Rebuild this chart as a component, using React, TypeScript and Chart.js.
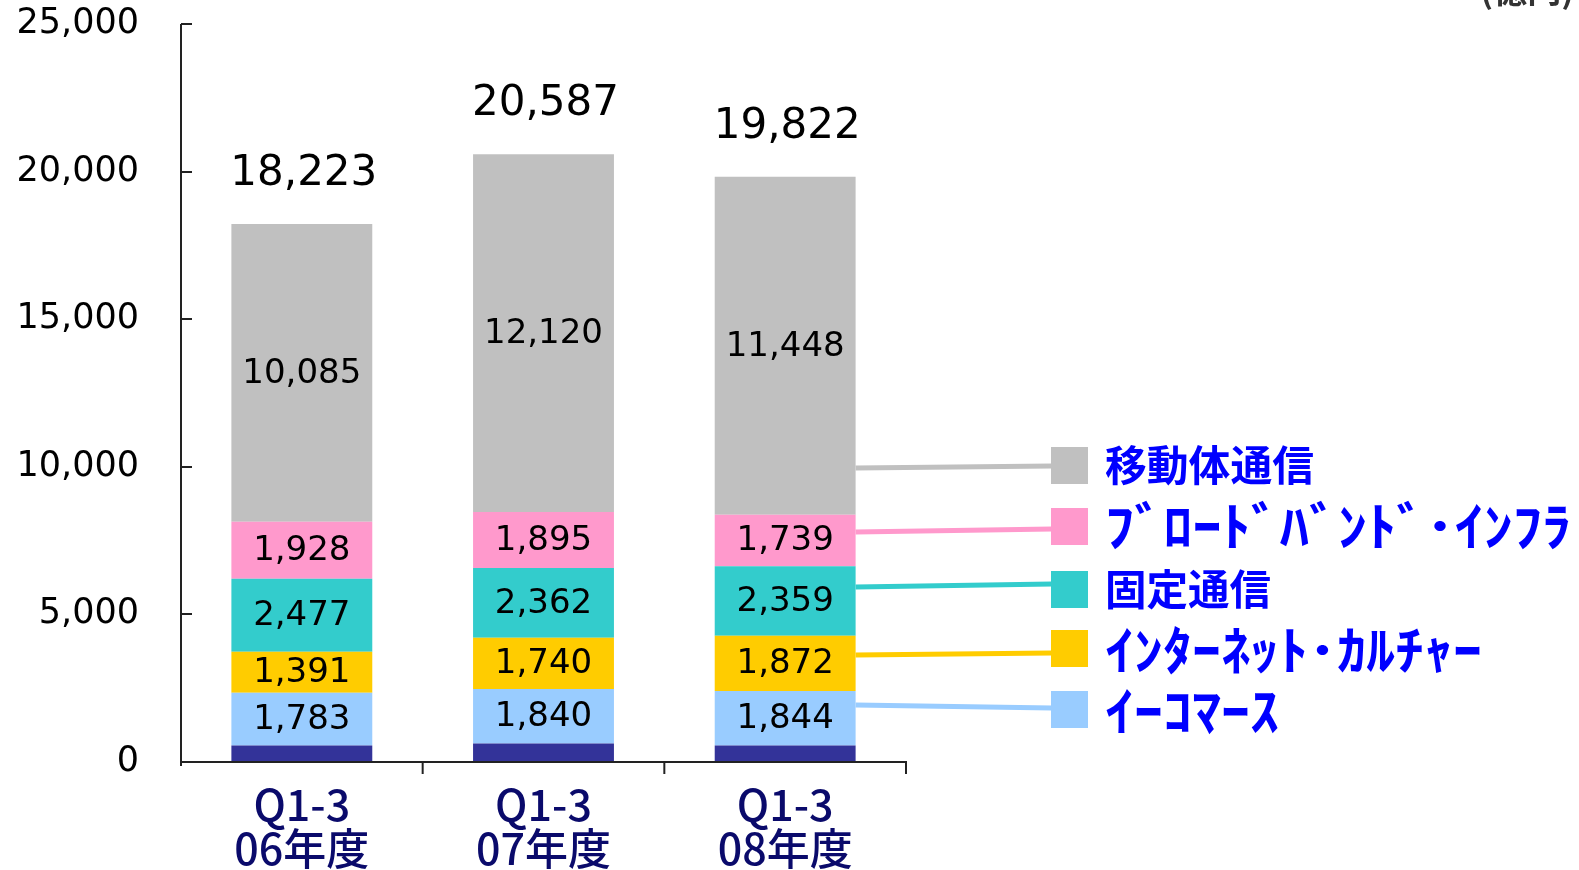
import React, { useEffect, useRef } from "react";
import { Chart, registerables } from "chart.js";

Chart.register(...registerables);

const categories = [["Q1-3", "06年度"], ["Q1-3", "07年度"], ["Q1-3", "08年度"]];
const totals = [18223, 20587, 19822];
const otherValues = [559, 630, 560];
const ecommerce = [1783, 1840, 1844];
const internetCulture = [1391, 1740, 1872];
const fixedComm = [2477, 2362, 2359];
const broadband = [1928, 1895, 1739];
const mobile = [10085, 12120, 11448];
const unitLabel = "(億円)";

const fmt = (v: number) => v.toLocaleString("en-US");

const W = 1579;
const H = 870;

export default function App() {
  const ref = useRef<HTMLCanvasElement | null>(null);

  useEffect(() => {
    document.body.style.margin = "0";
    document.body.style.overflow = "hidden";
    const canvas = ref.current;
    if (!canvas) return;

    const axisPlugin = {
      id: "axisDecor",
      afterDraw(chart: any) {
        const ctx = chart.ctx;
        const ca = chart.chartArea;
        const y = chart.scales.y;
        ctx.save();
        ctx.strokeStyle = "#222";
        ctx.lineWidth = 2;
        ctx.beginPath();
        ctx.moveTo(ca.left, ca.top);
        ctx.lineTo(ca.left, ca.bottom + 4);
        ctx.moveTo(ca.left, ca.bottom);
        ctx.lineTo(ca.right, ca.bottom);
        ctx.stroke();
        y.ticks.forEach((t: any) => {
          const py = Math.round(y.getPixelForValue(t.value));
          ctx.beginPath();
          ctx.moveTo(ca.left, py);
          ctx.lineTo(ca.left + 11, py);
          ctx.stroke();
        });
        const n = categories.length;
        const cw = (ca.right - ca.left) / n;
        for (let k = 1; k <= n; k++) {
          const px = ca.left + k * cw;
          ctx.beginPath();
          ctx.moveTo(px, ca.bottom - 1);
          ctx.lineTo(px, ca.bottom + 12);
          ctx.stroke();
        }
        ctx.restore();
      },
    };

    const labelPlugin = {
      id: "valueLabels",
      afterDatasetsDraw(chart: any) {
        const ctx = chart.ctx;
        ctx.save();
        ctx.fillStyle = "#000";
        ctx.textAlign = "center";
        ctx.textBaseline = "middle";
        ctx.font = '34px "DejaVu Sans"';
        chart.data.datasets.forEach((ds: any, di: number) => {
          if (di === 0) return;
          const meta = chart.getDatasetMeta(di);
          meta.data.forEach((bar: any, i: number) => {
            const cy = (bar.y + bar.base) / 2;
            ctx.fillText(fmt(ds.data[i]), bar.x, cy + 1);
          });
        });
        ctx.font = '42px "DejaVu Sans"';
        const y = chart.scales.y;
        const meta0 = chart.getDatasetMeta(0);
        totals.forEach((t, i) => {
          const px = meta0.data[i].x;
          ctx.fillText(fmt(t), px + 2, y.getPixelForValue(t) - 50);
        });
        ctx.restore();
      },
    };

    const legendPlugin = {
      id: "sideLegend",
      afterDraw(chart: any) {
        const ctx = chart.ctx;
        const ds = chart.data.datasets;
        const entries = [
          { di: 5, from: 468, to: 466, box: 447, ty: 465, font: 'bold 42px "Noto Sans CJK JP"', w: 209 },
          { di: 4, from: 532, to: 529, box: 508, ty: 526, font: 'bold 52px "Noto Sans CJK JP"', w: 466 },
          { di: 3, from: 587, to: 584, box: 571, ty: 589, font: 'bold 42px "Noto Sans CJK JP"', w: 166 },
          { di: 2, from: 655, to: 653, box: 630, ty: 650, font: 'bold 52px "Noto Sans CJK JP"', w: 377 },
          { di: 1, from: 705, to: 708, box: 691, ty: 711, font: 'bold 52px "Noto Sans CJK JP"', w: 174 },
        ];
        const b = chart.getDatasetMeta(0).data[2];
        const barRight = b.x + b.width / 2;
        ctx.save();
        entries.forEach((e) => {
          const d = ds[e.di];
          ctx.strokeStyle = d.backgroundColor;
          ctx.lineWidth = 5;
          ctx.beginPath();
          ctx.moveTo(barRight, e.from);
          ctx.lineTo(1052, e.to);
          ctx.stroke();
          ctx.fillStyle = d.backgroundColor;
          ctx.fillRect(1051, e.box, 37, 37);
          ctx.font = e.font;
          ctx.fillStyle = "#0000ff";
          ctx.textBaseline = "middle";
          ctx.textAlign = "left";
          const m = ctx.measureText(d.label).width;
          ctx.save();
          ctx.translate(1105, e.ty);
          ctx.scale(e.w / m, 1);
          ctx.fillText(d.label, 0, 0);
          ctx.restore();
        });
        ctx.font = 'bold 34px "Noto Sans CJK JP"';
        ctx.fillStyle = "#333";
        ctx.textAlign = "right";
        ctx.textBaseline = "alphabetic";
        ctx.fillText(unitLabel, 1574, 3);
        ctx.restore();
      },
    };

    const chart = new Chart(canvas, {
      type: "bar",
      data: {
        labels: categories,
        datasets: [
          { label: "その他", data: otherValues, backgroundColor: "#333399" },
          { label: "ｲｰｺﾏｰｽ", data: ecommerce, backgroundColor: "#99ccff" },
          { label: "ｲﾝﾀｰﾈｯﾄ･ｶﾙﾁｬｰ", data: internetCulture, backgroundColor: "#ffcc00" },
          { label: "固定通信", data: fixedComm, backgroundColor: "#33cccc" },
          { label: "ﾌﾞﾛｰﾄﾞﾊﾞﾝﾄﾞ･ｲﾝﾌﾗ", data: broadband, backgroundColor: "#ff99cc" },
          { label: "移動体通信", data: mobile, backgroundColor: "#c0c0c0" },
        ],
      },
      options: {
        responsive: false,
        animation: false,
        devicePixelRatio: 1,
        layout: { padding: { top: 24, right: W - 906, left: 0, bottom: 0 } },
        datasets: { bar: { barPercentage: 0.583, categoryPercentage: 1 } },
        plugins: { legend: { display: false }, tooltip: { enabled: false } },
        scales: {
          x: {
            stacked: true,
            grid: { display: false, drawTicks: false },
            border: { display: false },
            ticks: {
              color: "#0a0a6b",
              font: { family: '"Noto Sans CJK JP"', size: 43, weight: "500", lineHeight: 1.02 },
              padding: 21,
              maxRotation: 0,
              autoSkip: false,
            },
            afterFit(scale: any) {
              scale.height = H - 762;
              scale.paddingLeft = 0;
              scale.paddingRight = 0;
            },
          },
          y: {
            stacked: true,
            min: 0,
            max: 25000,
            grid: { display: false, drawTicks: false },
            border: { display: false },
            ticks: {
              stepSize: 5000,
              color: "#000",
              font: { family: '"DejaVu Sans"', size: 35 },
              padding: 42,
              callback: (v: any) => fmt(Number(v)),
            },
            afterFit(scale: any) {
              scale.width = 181;
              scale.paddingTop = 0;
              scale.paddingBottom = 0;
            },
          },
        },
      },
      plugins: [axisPlugin, labelPlugin, legendPlugin],
    } as any);

    return () => chart.destroy();
  }, []);

  return (
    <div style={{ width: W, height: H, position: "relative" }}>
      <canvas ref={ref} width={W} height={H} style={{ display: "block" }} />
    </div>
  );
}
